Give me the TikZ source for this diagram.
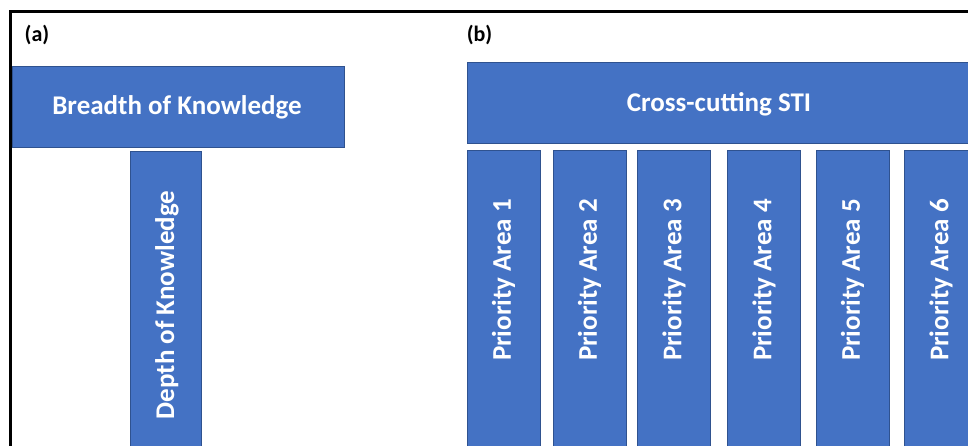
\documentclass[tikz,border=0pt]{standalone}
\usepackage{fontspec}
\setmainfont{Carlito}
\usepackage{xcolor}
\usetikzlibrary{positioning}

\definecolor{boxblue}{HTML}{4472C4}
\definecolor{boxline}{HTML}{2F528F}

\tikzset{
  bluebox/.style={draw=boxline, fill=boxblue, line width=0.7pt, inner sep=0pt},
  boxtext/.style={text=white, font=\fontsize{27}{31}\selectfont\bfseries, inner sep=0pt},
  vtext/.style={boxtext, rotate=90},
  panel/.style={font=\fontsize{22}{26}\selectfont\bfseries, inner sep=0pt}
}

\begin{document}
\begin{tikzpicture}[x=1pt, y=-1pt]
\useasboundingbox (0,0) rectangle (968,445);
\clip (0,0) rectangle (968,445);

% outer frame (runs off the page)
\draw[line width=3.5pt] (10.3,1000) -- (10.3,11.5) -- (1100,11.5);

% panel (a)
\node[panel] (la) at (37,35) {(a)};
\node[bluebox, minimum width=332pt, minimum height=81pt] (breadth) at (178,106.5) {};
\node[boxtext] (breadthtxt) at (177,107.5) {Breadth of Knowledge};
\node[bluebox, minimum width=71.5pt, minimum height=330pt] (depth) at (166,316) {};
\node[vtext] (depthtxt) at (167,305) {Depth of Knowledge};

% panel (b)
\node[panel] (lb) at (479.5,35) {(b)};
\node[bluebox, minimum width=504pt, minimum height=81pt] (sti) at (719,102.5) {};
\node[boxtext] (stitxt) at (719,104) {Cross-cutting STI};

% priority areas
\foreach \i/\cx in {1/503.5, 2/589.5, 3/674, 4/764, 5/852.5, 6/941} {
  \node[bluebox, minimum width=73pt, minimum height=330pt] (p\i) at (\cx,315) {};
  \node[vtext] (pt\i) at (\cx,280) {Priority Area \i};
}
\end{tikzpicture}
\end{document}
